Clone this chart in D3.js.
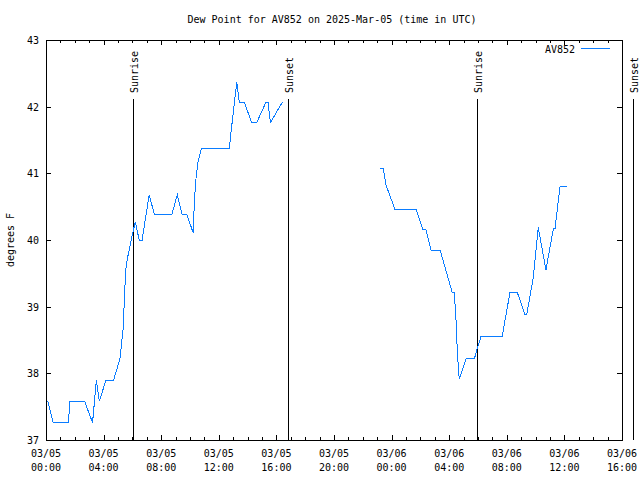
<!DOCTYPE html>
<html><head><meta charset="utf-8">
<script src="https://cdn.jsdelivr.net/npm/d3@7"></script>
<style>
body{margin:0;background:#fff}
text{font-family:"DejaVu Sans Mono",monospace;font-size:10px;fill:#000}
</style></head>
<body>
<svg id="chart" width="640" height="480"></svg>
<script>
const titleText = "Dew Point for AV852 on 2025-Mar-05 (time in UTC)";
const yLabel = "degrees F";
const seriesName = "AV852";
const times = [
 "2025-03-05T00:08","2025-03-05T00:30","2025-03-05T01:33","2025-03-05T01:40","2025-03-05T02:41",
 "2025-03-05T03:14","2025-03-05T03:30","2025-03-05T03:42","2025-03-05T04:10","2025-03-05T04:42",
 "2025-03-05T05:08","2025-03-05T05:21","2025-03-05T05:32","2025-03-05T05:39","2025-03-05T05:55",
 "2025-03-05T06:12","2025-03-05T06:29","2025-03-05T06:40","2025-03-05T07:10","2025-03-05T07:31",
 "2025-03-05T08:45","2025-03-05T09:07","2025-03-05T09:27","2025-03-05T09:46","2025-03-05T10:14",
 "2025-03-05T10:18","2025-03-05T10:25","2025-03-05T10:33","2025-03-05T10:47","2025-03-05T12:44",
 "2025-03-05T12:51","2025-03-05T13:15","2025-03-05T13:25","2025-03-05T13:46","2025-03-05T14:17",
 "2025-03-05T14:38","2025-03-05T15:17","2025-03-05T15:25","2025-03-05T15:35","2025-03-05T16:25",
 "2025-03-05T20:00",
 "2025-03-05T23:12","2025-03-05T23:25","2025-03-05T23:37","2025-03-06T00:14","2025-03-06T01:42",
 "2025-03-06T02:10","2025-03-06T02:23","2025-03-06T02:44","2025-03-06T03:22","2025-03-06T04:12",
 "2025-03-06T04:21","2025-03-06T04:28","2025-03-06T04:34","2025-03-06T04:42","2025-03-06T05:10",
 "2025-03-06T05:45","2025-03-06T05:55","2025-03-06T06:13","2025-03-06T07:41","2025-03-06T08:13",
 "2025-03-06T08:44","2025-03-06T09:16","2025-03-06T09:23","2025-03-06T09:50","2025-03-06T10:11",
 "2025-03-06T10:43","2025-03-06T11:14","2025-03-06T11:21","2025-03-06T11:42","2025-03-06T12:12"
];
const dewPoint = [
 37.58,37.26,37.26,37.58,37.58,
 37.26,37.90,37.58,37.90,37.90,
 38.22,38.65,39.55,39.72,40.00,
 40.27,39.99,39.99,40.68,40.39,
 40.39,40.68,40.39,40.39,40.10,
 40.59,40.92,41.17,41.37,41.37,
 41.62,42.37,42.07,42.07,41.76,
 41.76,42.07,42.07,41.76,42.07,
 null,
 41.07,41.07,40.82,40.46,40.46,
 40.16,40.16,39.85,39.85,39.22,
 39.22,38.83,38.31,37.91,38.22,
 38.22,38.35,38.56,38.56,39.21,
 39.21,38.88,38.88,39.43,40.19,
 39.55,40.17,40.17,40.81,40.81
];
const sunEvents = [
 {label:"Sunrise", time:"2025-03-05T06:02"},
 {label:"Sunset",  time:"2025-03-05T16:48"},
 {label:"Sunrise", time:"2025-03-06T05:57"},
 {label:"Sunset",  time:"2025-03-06T16:45"}
];
const xDomain = ["2025-03-05T00:00","2025-03-06T16:00"];
const yTicks = [37,38,39,40,41,42,43];

const parse = s => new Date(s + ":00Z");
const data = times.map((t,i)=>({t:parse(t), v:dewPoint[i]}));

const svg = d3.select("#chart");
const L=46, R=622, T=40, B=440;
const x = d3.scaleUtc().domain(xDomain.map(parse)).range([L,R]);
const y = d3.scaleLinear().domain([37,43]).range([B,T]);

const majorTicks = d3.utcHour.every(4).range(parse(xDomain[0]), new Date(parse(xDomain[1]).getTime()+1));
const minorTicks = d3.utcHour.every(1).range(parse(xDomain[0]), new Date(parse(xDomain[1]).getTime()+1));
const fmt1 = d3.utcFormat("%m/%d"), fmt2 = d3.utcFormat("%H:%M");

const g = svg.append("g").attr("shape-rendering","crispEdges");
// minor ticks
minorTicks.forEach(d=>{
  const px = Math.round(x(d))+0.5;
  g.append("line").attr("x1",px).attr("x2",px).attr("y1",B).attr("y2",B-3).attr("stroke","#000");
  g.append("line").attr("x1",px).attr("x2",px).attr("y1",T).attr("y2",T+3).attr("stroke","#000");
});
majorTicks.forEach(d=>{
  const px = Math.round(x(d))+0.5;
  g.append("line").attr("x1",px).attr("x2",px).attr("y1",B).attr("y2",B-5).attr("stroke","#000");
  g.append("line").attr("x1",px).attr("x2",px).attr("y1",T).attr("y2",T+5).attr("stroke","#000");
  svg.append("text").attr("x",x(d)).attr("y",B+17).attr("text-anchor","middle").text(fmt1(d));
  svg.append("text").attr("x",x(d)).attr("y",B+31).attr("text-anchor","middle").text(fmt2(d));
});
yTicks.forEach(v=>{
  const py = Math.round(y(v))+0.5;
  g.append("line").attr("x1",L).attr("x2",L+5).attr("y1",py).attr("y2",py).attr("stroke","#000");
  g.append("line").attr("x1",R).attr("x2",R-5).attr("y1",py).attr("y2",py).attr("stroke","#000");
  svg.append("text").attr("x",L-7).attr("y",y(v)+4).attr("text-anchor","end").text(v);
});
g.append("rect").attr("x",L+0.5).attr("y",T+0.5).attr("width",R-L).attr("height",B-T)
 .attr("fill","none").attr("stroke","#000");

// sun events
sunEvents.forEach(e=>{
  const px = Math.round(x(parse(e.time)))+0.5;
  g.append("line").attr("x1",px).attr("x2",px).attr("y1",99).attr("y2",B).attr("stroke","#000");
  svg.append("text").attr("transform",`translate(${px+4},93) rotate(-90)`)
    .attr("text-anchor","start").text(e.label);
});

// data line
const line = d3.line().defined(d=>d.v!=null).x(d=>x(d.t)).y(d=>y(d.v));
svg.append("path").datum(data).attr("d",line).attr("fill","none")
  .attr("stroke","#0a7cff").attr("stroke-width",1).attr("shape-rendering","crispEdges");

// legend
svg.append("text").attr("x",575).attr("y",53).attr("text-anchor","end").text(seriesName);
g.append("line").attr("x1",581).attr("x2",610).attr("y1",48.5).attr("y2",48.5).attr("stroke","#0a7cff");

// title & y label
svg.append("text").attr("x",332).attr("y",23).attr("text-anchor","middle").text(titleText);
svg.append("text").attr("transform","translate(14,240) rotate(-90)").attr("text-anchor","middle").text(yLabel);
</script>
</body></html>
